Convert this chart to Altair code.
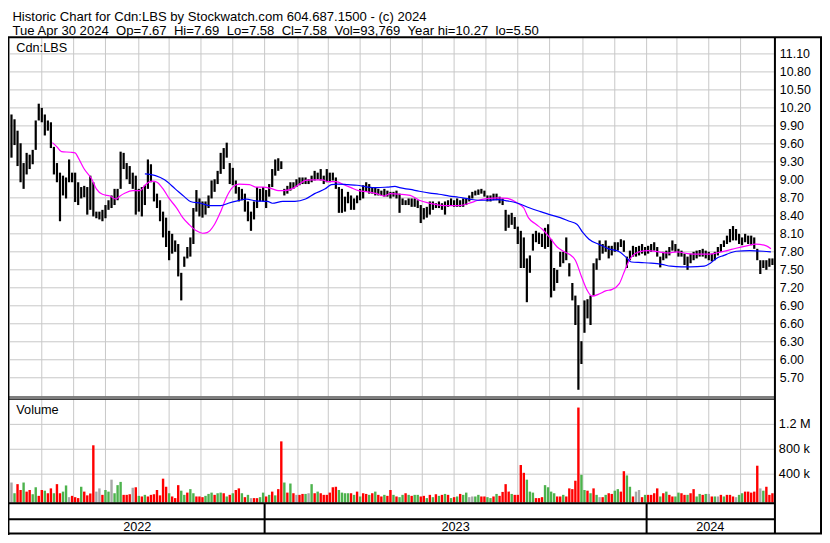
import altair as alt
import pandas as pd

W, H = 814, 527
SX, SY = W / 830.0, H / 543.0


def X(v):
    return round(v * SX, 2)


def Y(v):
    return round(v * SY, 2)


FONT = "Liberation Sans"
GRID = "#C8C8C8"

# ---------------- data (2 trading days per bar) ----------------
bar_high = [
    10.09, 10.01, 9.82, 9.61, 9.28, 9.45, 9.42, 9.50, 9.99, 10.27,
    10.20, 10.09, 9.99, 9.96, 9.55, 9.28, 9.12, 9.07, 9.04, 9.34,
    9.12, 9.12, 8.96, 8.88, 8.90, 8.88, 9.07, 8.96, 8.47, 8.47,
    8.50, 8.58, 8.66, 8.74, 8.85, 8.85, 9.47, 9.45, 9.28, 9.23,
    9.12, 9.07, 8.85, 8.88, 8.91, 9.34, 9.26, 8.96, 8.77, 8.66,
    8.47, 8.37, 8.15, 8.10, 7.99, 7.93, 7.45, 7.72, 7.88, 8.04,
    8.53, 8.83, 8.69, 8.64, 8.64, 8.74, 8.99, 9.01, 9.15, 9.45,
    9.53, 9.62, 9.28, 9.20, 8.99, 8.88, 8.85, 8.77, 8.64, 8.47,
    8.64, 8.88, 8.85, 8.88, 8.83, 8.93, 9.18, 9.34, 9.36, 9.31,
    8.85, 8.90, 8.96, 8.96, 9.01, 9.04, 9.04, 9.04, 9.01, 9.07,
    9.15, 9.12, 9.18, 9.07, 9.18, 9.12, 9.12, 9.04, 8.88, 8.85,
    8.72, 8.80, 8.74, 8.69, 8.74, 8.85, 8.91, 8.96, 8.93, 8.88,
    8.88, 8.85, 8.82, 8.85, 8.82, 8.80, 8.80, 8.82, 8.77, 8.69,
    8.66, 8.69, 8.69, 8.69, 8.66, 8.58, 8.53, 8.55, 8.64, 8.64,
    8.61, 8.64, 8.61, 8.64, 8.66, 8.69, 8.66, 8.69, 8.66, 8.69,
    8.69, 8.74, 8.80, 8.82, 8.84, 8.85, 8.82, 8.74, 8.74, 8.77,
    8.77, 8.72, 8.69, 8.50, 8.42, 8.45, 8.38, 8.22, 8.15, 8.04,
    7.69, 7.74, 8.10, 8.15, 8.12, 8.10, 8.20, 8.26, 8.01, 7.53,
    7.50, 7.80, 7.80, 8.04, 7.61, 7.28, 7.07, 6.91, 6.31, 6.99,
    7.01, 7.07, 7.61, 7.69, 7.99, 7.93, 7.99, 7.90, 7.90, 7.96,
    7.96, 8.01, 7.99, 7.72, 7.82, 7.90, 7.88, 7.90, 7.93, 7.88,
    7.90, 7.93, 7.96, 7.88, 7.72, 7.80, 7.82, 7.88, 7.99, 7.93,
    7.85, 7.82, 7.77, 7.72, 7.77, 7.80, 7.82, 7.83, 7.85, 7.82,
    7.80, 7.77, 7.80, 7.88, 7.93, 7.99, 8.07, 8.18, 8.23, 8.18,
    8.10, 8.04, 8.10, 8.07, 8.07, 8.04, 7.85, 7.66, 7.66, 7.66,
    7.69, 7.69,
]
bar_low = [
    9.37, 9.58, 9.23, 8.96, 8.85, 9.09, 9.18, 9.26, 9.50, 9.99,
    9.96, 9.74, 9.82, 9.53, 9.09, 8.96, 8.31, 8.74, 8.69, 8.96,
    8.96, 8.63, 8.58, 8.69, 8.71, 8.42, 8.50, 8.39, 8.36, 8.34,
    8.31, 8.36, 8.50, 8.53, 8.58, 8.66, 8.85, 9.18, 9.01, 8.93,
    8.85, 8.42, 8.47, 8.39, 8.58, 8.85, 8.96, 8.64, 8.53, 8.31,
    8.04, 7.88, 7.66, 7.77, 7.80, 7.39, 6.99, 7.55, 7.69, 7.72,
    7.93, 8.47, 8.39, 8.37, 8.42, 8.53, 8.69, 8.80, 8.93, 9.10,
    9.18, 9.37, 8.93, 8.91, 8.77, 8.64, 8.66, 8.47, 8.31, 8.15,
    8.34, 8.53, 8.64, 8.64, 8.53, 8.72, 8.88, 9.07, 9.15, 9.18,
    8.74, 8.77, 8.82, 8.85, 8.88, 8.91, 8.93, 8.93, 8.93, 8.96,
    8.99, 9.01, 8.99, 8.93, 8.96, 8.96, 8.99, 8.85, 8.45, 8.45,
    8.47, 8.61, 8.50, 8.50, 8.61, 8.66, 8.69, 8.80, 8.77, 8.77,
    8.74, 8.74, 8.74, 8.72, 8.72, 8.69, 8.72, 8.69, 8.45, 8.58,
    8.58, 8.58, 8.55, 8.55, 8.53, 8.28, 8.34, 8.37, 8.42, 8.50,
    8.53, 8.53, 8.50, 8.42, 8.55, 8.58, 8.55, 8.55, 8.55, 8.55,
    8.58, 8.64, 8.69, 8.74, 8.75, 8.77, 8.72, 8.64, 8.64, 8.66,
    8.66, 8.61, 8.58, 8.15, 8.20, 8.25, 8.18, 7.93, 7.53, 7.53,
    6.96, 7.45, 7.82, 7.96, 7.93, 7.88, 7.85, 7.88, 7.04, 7.15,
    7.28, 7.55, 7.61, 7.66, 7.39, 6.99, 6.58, 5.50, 5.93, 6.45,
    6.69, 6.58, 7.07, 7.50, 7.66, 7.77, 7.80, 7.69, 7.74, 7.80,
    7.82, 7.88, 7.80, 7.53, 7.66, 7.72, 7.72, 7.74, 7.77, 7.74,
    7.77, 7.80, 7.82, 7.72, 7.54, 7.66, 7.69, 7.74, 7.82, 7.80,
    7.72, 7.72, 7.58, 7.50, 7.61, 7.66, 7.69, 7.72, 7.72, 7.69,
    7.66, 7.64, 7.66, 7.74, 7.80, 7.88, 7.93, 7.96, 7.99, 7.99,
    7.93, 7.91, 7.96, 7.93, 7.91, 7.85, 7.66, 7.43, 7.53, 7.50,
    7.55, 7.58,
]
# volume in thousands of shares
vol_k = [
    266, 94, 240, 146, 266, 120, 146, 78, 190, 52,
    146, 135, 94, 172, 94, 240, 94, 120, 219, 31,
    52, 31, 16, 198, 120, 60, 90, 864, 120, 172,
    68, 146, 120, 312, 94, 224, 276, 68, 68, 78,
    182, 190, 52, 42, 68, 42, 68, 78, 146, 60,
    328, 198, 94, 42, 16, 224, 135, 68, 104, 160,
    94, 42, 42, 31, 52, 83, 104, 68, 94, 104,
    94, 42, 68, 94, 146, 172, 94, 31, 68, 15,
    16, 15, 31, 104, 42, 68, 120, 60, 160, 927,
    266, 104, 250, 94, 68, 68, 83, 83, 94, 240,
    94, 120, 94, 68, 68, 104, 190, 198, 146, 104,
    94, 94, 94, 68, 120, 42, 94, 83, 68, 94,
    120, 68, 42, 68, 52, 146, 68, 42, 31, 68,
    94, 68, 52, 68, 68, 42, 52, 16, 68, 31,
    78, 52, 68, 83, 68, 16, 31, 42, 83, 68,
    104, 31, 42, 42, 68, 42, 42, 31, 16, 42,
    83, 52, 115, 240, 120, 83, 68, 68, 547, 422,
    312, 120, 104, 16, 16, 31, 224, 190, 120, 94,
    42, 42, 68, 42, 172, 160, 295, 1470, 390, 146,
    135, 94, 172, 68, 31, 31, 68, 94, 83, 135,
    160, 120, 448, 380, 198, 42, 120, 146, 31, 68,
    68, 68, 94, 172, 42, 94, 120, 68, 42, 42,
    104, 94, 68, 68, 94, 160, 42, 83, 68, 83,
    83, 42, 42, 42, 68, 42, 68, 68, 42, 31,
    68, 94, 120, 120, 104, 120, 536, 172, 135, 198,
    68, 94,
]
# r = down day, g = up day, n = unchanged
vol_dir = (
    "n g r r g r r g g r  r g r r g r r g g n  r r r g r r r r n n  "
    "r g g n g g g r r r  n r g r g r r r r r  r r g r r r g g r g  "
    "g r r r g g g r g g  r g r g r r g r g n  r r g g r g r g r r  "
    "g r g r n r r g n g  r g r r r r r r g g  g g r g r g r r g r  "
    "g r r g r r g r g g  r g r g g r r g r g  r g r g r g r g r g  "
    "g n n g g r r g g r  g r r r r g r r r r  g g g r r r g g g g  "
    "r r g r r r r r g g  r g r g n r g r r g  g r r g g r n n r g  "
    "r r r r g r g r r g  g r r g r r g g r g  n r g n r g r r r n  "
    "g g r r r r r n g r  r r"
).split()

# moving averages: (trading-day index, price)
ma_short = [
    (28, 9.62), (31, 9.55), (34, 9.47), (40, 9.46), (43, 9.45), (45, 9.37),
    (49, 9.18), (54, 9.01), (57, 8.85), (61, 8.76), (66, 8.73), (70, 8.68),
    (72, 8.72), (76, 8.78), (81, 8.82), (86, 8.82), (89, 8.91), (94, 8.98),
    (97, 8.96), (101, 8.85), (105, 8.69), (110, 8.53), (114, 8.37), (118, 8.26),
    (123, 8.15), (127, 8.11), (130, 8.12), (135, 8.26), (139, 8.47), (143, 8.72),
    (147, 8.88), (151, 8.93), (158, 8.92), (162, 8.88), (167, 8.88), (173, 8.85),
    (177, 8.82), (180, 8.82), (186, 8.85), (191, 8.93), (195, 8.99), (199, 9.00),
    (206, 9.00), (210, 8.97), (215, 8.97), (221, 8.91), (225, 8.87), (230, 8.82),
    (236, 8.80), (242, 8.77), (247, 8.73), (251, 8.77), (257, 8.76), (264, 8.74),
    (270, 8.66), (277, 8.61), (283, 8.58), (290, 8.57), (296, 8.57), (303, 8.61),
    (309, 8.66), (316, 8.69), (322, 8.70), (328, 8.69), (335, 8.61), (339, 8.53),
    (342, 8.37), (347, 8.26), (351, 8.18), (356, 8.04), (361, 7.88), (365, 7.81),
    (369, 7.76), (373, 7.66), (377, 7.39), (381, 7.15), (384, 7.06), (389, 7.10),
    (393, 7.15), (397, 7.17), (402, 7.27), (405, 7.45), (409, 7.68), (415, 7.80),
    (421, 7.82), (428, 7.80), (434, 7.78), (440, 7.80), (447, 7.77), (453, 7.76),
    (460, 7.76), (466, 7.78), (473, 7.82), (479, 7.86), (486, 7.90), (492, 7.93),
    (499, 7.90), (502, 7.85),
]
ma_long = [
    (89, 9.10), (96, 9.07), (102, 9.00), (109, 8.85), (115, 8.72), (119, 8.64),
    (126, 8.61), (132, 8.57), (139, 8.57), (144, 8.61), (150, 8.65), (156, 8.68),
    (162, 8.65), (170, 8.64), (173, 8.61), (180, 8.64), (188, 8.64), (195, 8.68),
    (201, 8.77), (208, 8.85), (212, 8.92), (216, 8.93), (223, 8.92), (229, 8.91),
    (236, 8.88), (242, 8.87), (249, 8.88), (254, 8.89), (257, 8.87), (264, 8.84),
    (270, 8.81), (277, 8.78), (283, 8.76), (290, 8.73), (296, 8.71), (303, 8.68),
    (309, 8.66), (316, 8.66), (322, 8.67), (328, 8.65), (335, 8.61), (343, 8.53),
    (350, 8.47), (356, 8.42), (363, 8.37), (369, 8.31), (374, 8.26), (378, 8.12),
    (382, 8.01), (389, 7.92), (395, 7.85), (402, 7.80), (406, 7.72), (410, 7.63),
    (417, 7.62), (423, 7.61), (430, 7.59), (436, 7.56), (443, 7.55), (449, 7.55),
    (458, 7.56), (462, 7.61), (466, 7.69), (471, 7.74), (475, 7.78), (479, 7.81),
    (488, 7.82), (497, 7.81), (502, 7.80),
]

price_ticks = [5.70, 6.00, 6.30, 6.60, 6.90, 7.20, 7.50, 7.80, 8.10, 8.40,
               8.70, 9.00, 9.30, 9.60, 9.90, 10.20, 10.50, 10.80, 11.10]
vol_ticks = [400000, 800000, 1200000]
vol_tick_labels = ["400 k", "800 k", "1.2 M"]
month_start_days = [21, 42, 63, 85, 105, 126, 147, 168, 190, 210, 231, 251,
                    272, 293, 314, 335, 356, 378, 399, 420, 440, 461, 482]
year_labels = ["2022", "2023", "2024"]
year_start_days = [0, 168, 420]
last_day = 504
header_1 = "Historic Chart for Cdn:LBS by Stockwatch.com 604.687.1500 - (c) 2024"
header_2 = ("Tue Apr 30 2024 \u00a0Op=7.67 \u00a0Hi=7.69 \u00a0Lo=7.58 \u00a0Cl=7.58"
            " \u00a0Vol=93,769 \u00a0Year hi=10.27 \u00a0lo=5.50")

# ---------------- tables ----------------
n = len(bar_high)
assert n == len(bar_low) == len(vol_k) == len(vol_dir), (n, len(bar_low), len(vol_k), len(vol_dir))

bars = pd.DataFrame({"day": [2 * i + 1 for i in range(n)], "low": bar_low, "high": bar_high})
vols = pd.DataFrame({"day": [2 * i + 1 for i in range(n)],
                     "vol": [v * 1000 for v in vol_k], "dir": vol_dir})
ma_s = pd.DataFrame(ma_short, columns=["day", "value"])
ma_l = pd.DataFrame(ma_long, columns=["day", "value"])
ends = year_start_days[1:] + [last_day]
years = pd.DataFrame({"label": year_labels,
                      "mid": [(a + b) / 2 for a, b in zip(year_start_days, ends)]})
ptick = pd.DataFrame({"p": price_ticks, "label": [f"{p:.2f}" for p in price_ticks]})
vtick = pd.DataFrame({"v": vol_ticks, "label": vol_tick_labels})
months = pd.DataFrame({"d": month_start_days})
ydiv = pd.DataFrame({"d": year_start_days[1:]})
one = pd.DataFrame({"a": [0]})

x_scale = alt.Scale(domain=[0, last_day], range=[X(2), X(781)], nice=False, zero=False)
p_scale = alt.Scale(domain=[5.70, 11.10], range=[Y(381), Y(47.3)], nice=False, zero=False)
v_scale = alt.Scale(domain=[0, 1200000], range=[Y(506), Y(429)], nice=False, zero=False)

# frame lines (layout, ref-pixel coordinates): x1, y1, x2, y2, width
frame = [
    (0, 30.2, 830, 30.2, 2),        # under header
    (0.7, 30, 0.7, 543, 1.5),       # left border
    (782, 30, 782, 542, 2),         # plot right border
    (829, 30, 829, 542, 2),         # outer right border
    (0, 400.8, 782, 400.8, 1.2),    # price / volume separator (double)
    (0, 403.0, 782, 403.0, 1.2),
    (0, 510.2, 782, 510.2, 2),      # volume bottom
    (0, 526.8, 782, 526.8, 2),      # band separator
    (0, 541.5, 830, 541.5, 2),      # bottom
]
frame_df = pd.DataFrame(frame, columns=["x1", "y1", "x2", "y2", "w"])
for c in ["x1", "x2"]:
    frame_df[c] = frame_df[c].map(X)
for c in ["y1", "y2"]:
    frame_df[c] = frame_df[c].map(Y)

# ---------------- layers ----------------
grid_hp = alt.Chart(ptick).mark_rule(color=GRID, strokeWidth=1).encode(
    y=alt.Y("p:Q", scale=p_scale, axis=None), x=alt.value(X(2)), x2=alt.value(X(781)))
grid_hv = alt.Chart(vtick).mark_rule(color=GRID, strokeWidth=1).encode(
    y=alt.Y("v:Q", scale=v_scale, axis=None), x=alt.value(X(2)), x2=alt.value(X(781)))
grid_vp = alt.Chart(months).mark_rule(color=GRID, strokeWidth=1).encode(
    x=alt.X("d:Q", scale=x_scale, axis=None), y=alt.value(Y(31)), y2=alt.value(Y(400)))
grid_vv = alt.Chart(months).mark_rule(color=GRID, strokeWidth=1).encode(
    x=alt.X("d:Q", scale=x_scale, axis=None), y=alt.value(Y(403.5)), y2=alt.value(Y(509)))

vol_bars = alt.Chart(vols).mark_rule(strokeWidth=2.4).encode(
    x=alt.X("day:Q", scale=x_scale, axis=None),
    y=alt.Y("vol:Q", scale=v_scale, axis=None),
    y2=alt.value(Y(509.5)),
    color=alt.Color("dir:N", legend=None,
                    scale=alt.Scale(domain=["r", "g", "n"],
                                    range=["#FF0000", "#4DB34D", "#A8A8A8"])))

price_bars = alt.Chart(bars).mark_rule(color="black", strokeWidth=2.2).encode(
    x=alt.X("day:Q", scale=x_scale, axis=None),
    y=alt.Y("low:Q", scale=p_scale, axis=None),
    y2="high:Q")

line_s = alt.Chart(ma_s).mark_line(color="#FF00FF", strokeWidth=1.2, interpolate="monotone").encode(
    x=alt.X("day:Q", scale=x_scale, axis=None), y=alt.Y("value:Q", scale=p_scale, axis=None))
line_l = alt.Chart(ma_l).mark_line(color="#0000FF", strokeWidth=1.2, interpolate="monotone").encode(
    x=alt.X("day:Q", scale=x_scale, axis=None), y=alt.Y("value:Q", scale=p_scale, axis=None))

frame_lines = alt.Chart(frame_df).mark_rule(color="black").encode(
    x=alt.X("x1:Q", scale=None, axis=None), x2="x2:Q",
    y=alt.Y("y1:Q", scale=None, axis=None), y2="y2:Q",
    strokeWidth=alt.StrokeWidth("w:Q", scale=None, legend=None))

year_div = alt.Chart(ydiv).mark_rule(color="black", strokeWidth=2).encode(
    x=alt.X("d:Q", scale=x_scale, axis=None), y=alt.value(Y(510)), y2=alt.value(Y(541.5)))

fs = 12.7
p_labels = alt.Chart(ptick).mark_text(align="left", baseline="middle", font=FONT,
                                      fontSize=12.4, color="#000000").encode(
    y=alt.Y("p:Q", scale=p_scale, axis=None), x=alt.value(X(787)), text="label:N")
v_labels = alt.Chart(vtick).mark_text(align="left", baseline="middle", font=FONT,
                                      fontSize=fs, color="#000000").encode(
    y=alt.Y("v:Q", scale=v_scale, axis=None), x=alt.value(X(786)), text="label:N")
y_labels = alt.Chart(years).mark_text(align="center", baseline="alphabetic", font=FONT,
                                      fontSize=fs, color="#000000").encode(
    x=alt.X("mid:Q", scale=x_scale, axis=None), y=alt.value(Y(539)), text="label:N")


def label(txt, x, y, size=fs):
    return alt.Chart(one).mark_text(align="left", baseline="alphabetic", font=FONT,
                                    fontSize=size, color="#000000", text=txt).encode(
        x=alt.value(X(x)), y=alt.value(Y(y)))


chart = alt.layer(
    grid_hp, grid_hv, grid_vp, grid_vv,
    vol_bars, price_bars, line_s, line_l,
    frame_lines, year_div,
    p_labels, v_labels, y_labels,
    label(header_1, 4.5, 13, 13.1), label(header_2, 4.5, 27.5, 13.1),
    label("Cdn:LBS", 8.5, 45.5), label("Volume", 8.5, 418),
).resolve_scale(
    x="independent", y="independent", color="independent"
).properties(
    width=W, height=H, padding=0, background="white",
    autosize=alt.AutoSizeParams(type="none"),
).configure_view(stroke=None)

chart.save("out.html", embed_options={"renderer": "svg", "actions": False})
